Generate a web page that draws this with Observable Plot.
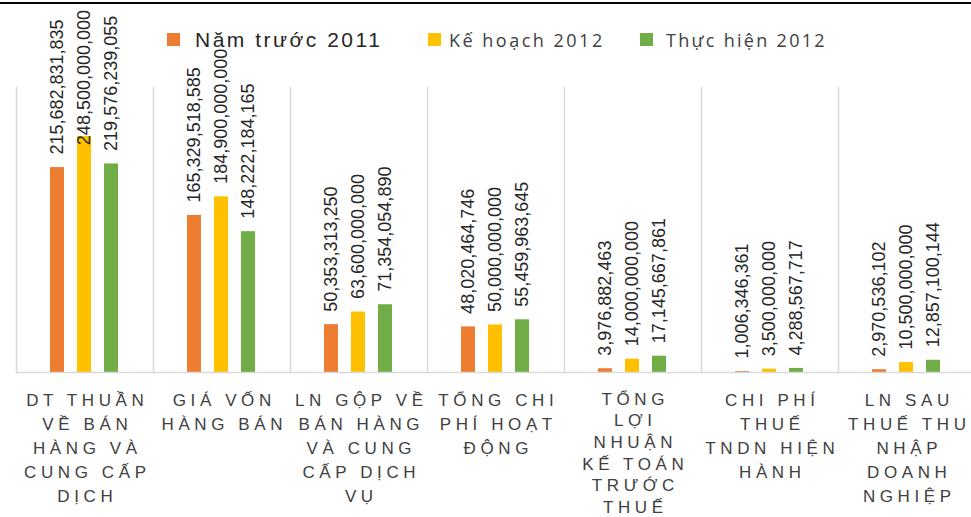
<!DOCTYPE html>
<html><head><meta charset="utf-8">
<script src="https://cdn.jsdelivr.net/npm/d3@7"></script>
<script src="https://cdn.jsdelivr.net/npm/@observablehq/plot@0.6"></script>
<style>
body{margin:0;background:#fff;width:971px;height:517px;overflow:hidden;position:relative;font-family:"Liberation Sans",Arial,sans-serif}
#topline{height:2px;border-bottom:2px solid #000}
#legend{position:absolute;left:0;top:0;width:971px;height:60px;pointer-events:none}
.sw{position:absolute;width:13px;height:13px}
.lt{position:absolute;white-space:nowrap;line-height:1}
</style></head><body>
<div id="topline"></div>
<div id="chart"></div>
<div id="legend"></div>
<script>
// ---- data ----
const categories = ["DT THUẦN VỀ BÁN HÀNG VÀ CUNG CẤP DỊCH", "GIÁ VỐN HÀNG BÁN", "LN GỘP VỀ BÁN HÀNG VÀ CUNG CẤP DỊCH VỤ", "TỔNG CHI PHÍ HOẠT ĐỘNG", "TỔNG LỢI NHUẬN KẾ TOÁN TRƯỚC THUẾ", "CHI PHÍ THUẾ TNDN HIỆN HÀNH", "LN SAU THUẾ THU NHẬP DOANH NGHIỆP"];
const categoryLines = [
  ["DT THUẦN", "VỀ BÁN", "HÀNG VÀ", "CUNG CẤP", "DỊCH"],
  ["GIÁ VỐN", "HÀNG BÁN"],
  ["LN GỘP VỀ", "BÁN HÀNG", "VÀ CUNG", "CẤP DỊCH", "VỤ"],
  ["TỔNG CHI", "PHÍ HOẠT", "ĐỘNG"],
  ["TỔNG", "LỢI", "NHUẬN", "KẾ TOÁN", "TRƯỚC", "THUẾ"],
  ["CHI PHÍ", "THUẾ", "TNDN HIỆN", "HÀNH"],
  ["LN SAU", "THUẾ THU", "NHẬP", "DOANH", "NGHIỆP"]
];
const seriesNames = ["Năm trước 2011", "Kế hoạch 2012", "Thực hiện 2012"];
const seriesColors = ["#ED7D31", "#FFC000", "#70AD47"];
const values2011 = [215682831835, 165329518585, 50353313250, 48020464746, 3976882463, 1006346361, 2970536102];
const plan2012 = [248500000000, 184900000000, 63600000000, 50000000000, 14000000000, 3500000000, 10500000000];
const actual2012 = [219576239055, 148222184165, 71354054890, 55459963645, 17145667861, 4288567717, 12857100144];
const yMax = 300000000000;

// ---- tables ----
const seriesValues = [values2011, plan2012, actual2012];
const rows = [];
categories.forEach((c, i) => seriesNames.forEach((s, j) => rows.push({cat: c, series: s, value: seriesValues[j][i]})));
const catRows = categories.map((c, i) => ({cat: c, label: categoryLines[i].join("\n"), n: categoryLines[i].length}));
const fmt = d3.format(",");

const catText = {fx: "cat", text: "label", frameAnchor: "bottom", lineAnchor: "top", dy: 17, dx: 2.3, fontSize: 17, fill: "#404040"};

const plot = Plot.plot({
  width: 971,
  height: 513,
  marginTop: 83,
  marginBottom: 145,
  marginLeft: 13,
  marginRight: 0,
  style: {fontFamily: "'Liberation Sans', Arial, sans-serif", background: "white", overflow: "visible"},
  fx: {domain: categories, range: [13, 977], padding: 0, axis: null},
  x: {domain: seriesNames, paddingInner: 0.464, paddingOuter: 1.19, axis: null},
  y: {domain: [0, yMax], axis: null},
  color: {domain: seriesNames, range: seriesColors},
  marks: [
    Plot.frame({anchor: "left", stroke: "#d9d9d9", strokeWidth: 1.5}),
    Plot.barY(rows, {fx: "cat", x: "series", y: "value", fill: "series"}),
    Plot.ruleY([0], {stroke: "#d9d9d9", strokeWidth: 1.5}),
    Plot.text(rows, {fx: "cat", x: "series", y: "value", text: d => fmt(d.value), rotate: -90, textAnchor: "start", dy: -13, fontSize: 18, fill: "#262626"}),
    Plot.text(catRows.filter(d => d.n <= 5), {...catText, lineHeight: 1.4}),
    Plot.text(catRows.filter(d => d.n > 5), {...catText, lineHeight: 1.27})
  ]
});
document.getElementById("chart").appendChild(plot);
const textGroups = d3.select(plot).selectAll('g[aria-label="text"]').nodes();
// groups: [values, categories (short), categories (long)]
textGroups.slice(1).forEach(g => d3.select(g).style("letter-spacing", "4.6px"));

// keep value labels inside the chart area (like the spreadsheet does)
d3.select(textGroups[0]).selectAll("text").each(function() {
  const r = this.getBoundingClientRect();
  if (r.top < 10) {
    const t = this.getAttribute("transform") || "";
    this.setAttribute("transform", `translate(0,${10 - r.top}) ` + t);
  }
});

// ---- legend ----
const legendLayout = [
  {sx: 167, tx: 195, top: 29, size: 21, ls: 2.5, font: "'Liberation Sans', Arial, sans-serif", color: "#262626"},
  {sx: 428, tx: 449, top: 31, size: 18, ls: 2.5, font: "'Open Sans', sans-serif", color: "#404040"},
  {sx: 640, tx: 666, top: 31, size: 18, ls: 2.3, font: "'Open Sans', sans-serif", color: "#404040"}
];
const legend = document.getElementById("legend");
seriesNames.forEach((name, i) => {
  const L = legendLayout[i];
  const sw = document.createElement("div");
  sw.className = "sw";
  sw.style.left = L.sx + "px"; sw.style.top = "33px"; sw.style.background = seriesColors[i];
  legend.appendChild(sw);
  const t = document.createElement("div");
  t.className = "lt";
  t.textContent = name;
  Object.assign(t.style, {left: L.tx + "px", top: L.top + "px", fontSize: L.size + "px", letterSpacing: L.ls + "px", fontFamily: L.font, color: L.color});
  legend.appendChild(t);
});
</script>
</body></html>
